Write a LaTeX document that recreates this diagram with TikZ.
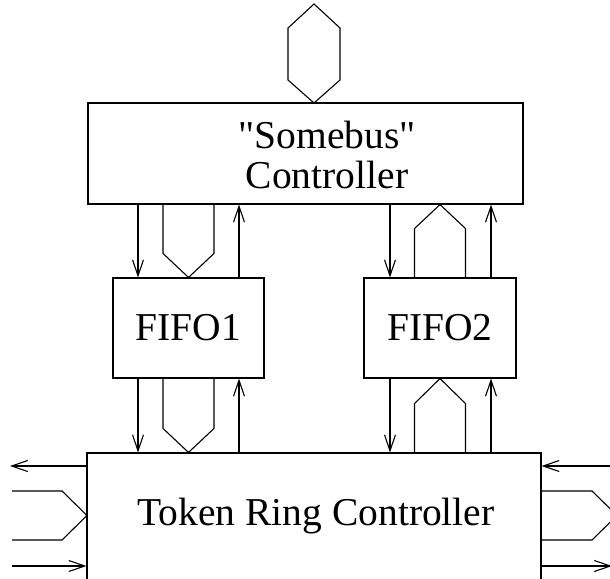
\documentclass[tikz,border=0pt]{standalone}
\usepackage{fontspec}
\setmainfont{Liberation Serif}
\usetikzlibrary{arrows.meta,calc}

\tikzset{
    blk/.style={draw, line width=1.1pt, inner sep=0pt},
    lbl/.style={font=\fontsize{39.5}{40}\selectfont, inner sep=0pt, align=center},
    sig/.style={line width=1.1pt, -{Straight Barb[length=16pt,width=11pt,line width=1.1pt]}},
    bus/.style={line width=1.1pt, line join=miter}
}

% Bus shape between two boxes: #1 apex point, #2 box edge it leaves from, #3 signed shoulder offset
\newcommand{\drawbus}[3]{
    \draw[bus] ([xshift=-25.5pt]#1 |- #2) -- ($([xshift=-25.5pt]#1)+(0,#3)$) -- (#1)
        -- ($([xshift=25.5pt]#1)+(0,#3)$) -- ([xshift=25.5pt]#1 |- #2);
}

\begin{document}
\begin{tikzpicture}[x=1pt, y=-1pt]
\useasboundingbox (0,0) rectangle (610,578);
\clip (0,0) rectangle (610,578);

% Boxes
\node[blk, minimum width=435pt, minimum height=101pt] (sbus) at (305.5,153.5) {};
\node[blk, minimum width=151pt, minimum height=100pt] (fifo1) at (188.5,328) {};
\node[blk, minimum width=152pt, minimum height=100pt] (fifo2) at (440,328) {};
\node[blk, minimum width=454pt, minimum height=167pt] (trc) at (314,536.5) {};

% Labels
\node[lbl] (sbustext) at (327,155) {\textquotedbl Somebus\textquotedbl\\Controller};
\node[lbl] (fifo1text) at (fifo1) {FIFO1};
\node[lbl] (fifo2text) at (fifo2) {FIFO2};
\node[lbl] (trctext) at (316,516) {Token Ring Controller};

% System bus on top
\coordinate (hexbot) at (314,103);
\coordinate (hextop) at (314,4);
\draw[bus] (hexbot) -- (288,80) -- (288,28) -- (hextop) -- (340,28) -- (340,80) -- cycle;

% Somebus <-> FIFO1
\draw[sig] ([xshift=-50.5pt]fifo1.north |- sbus.south) -- ([xshift=-50.5pt]fifo1.north);
\draw[sig] ([xshift=50.5pt]fifo1.north) -- ([xshift=50.5pt]fifo1.north |- sbus.south);
\drawbus{fifo1.north}{sbus.south}{-24}

% Somebus <-> FIFO2
\draw[sig] ([xshift=-50pt]fifo2.north |- sbus.south) -- ([xshift=-50pt]fifo2.north);
\draw[sig] ([xshift=51pt]fifo2.north) -- ([xshift=51pt]fifo2.north |- sbus.south);
\coordinate (b2top) at (fifo2.north |- sbus.south);
\drawbus{b2top}{fifo2.north}{24}

% FIFO1 <-> Token Ring
\draw[sig] ([xshift=-50.5pt]fifo1.south) -- ([xshift=-50.5pt]fifo1.south |- trc.north);
\draw[sig] ([xshift=50.5pt]fifo1.south |- trc.north) -- ([xshift=50.5pt]fifo1.south);
\coordinate (b1bot) at (fifo1.south |- trc.north);
\drawbus{b1bot}{fifo1.south}{-24}

% FIFO2 <-> Token Ring
\draw[sig] ([xshift=-50pt]fifo2.south) -- ([xshift=-50pt]fifo2.south |- trc.north);
\draw[sig] ([xshift=51pt]fifo2.south |- trc.north) -- ([xshift=51pt]fifo2.south);
\drawbus{fifo2.south}{trc.north}{25}

% Ring side, left
\coordinate (lout) at (10,466);
\coordinate (lin) at (12,566);
\draw[sig] (lout -| trc.west) -- (lout);
\draw[sig] (lin) -- (lin -| trc.west);
\draw[bus] (12,491) -- (62,491) -- (87,515.5) -- (62,540) -- (12,540);

% Ring side, right
\coordinate (rin) at (610,466);
\coordinate (rout) at (612,566);
\draw[sig] (rin) -- (rin -| trc.east);
\draw[sig] (rout -| trc.east) -- (rout);
\draw[bus] (541,491) -- (592,491) -- (617,515.5) -- (592,540) -- (541,540);

\end{tikzpicture}
\end{document}
